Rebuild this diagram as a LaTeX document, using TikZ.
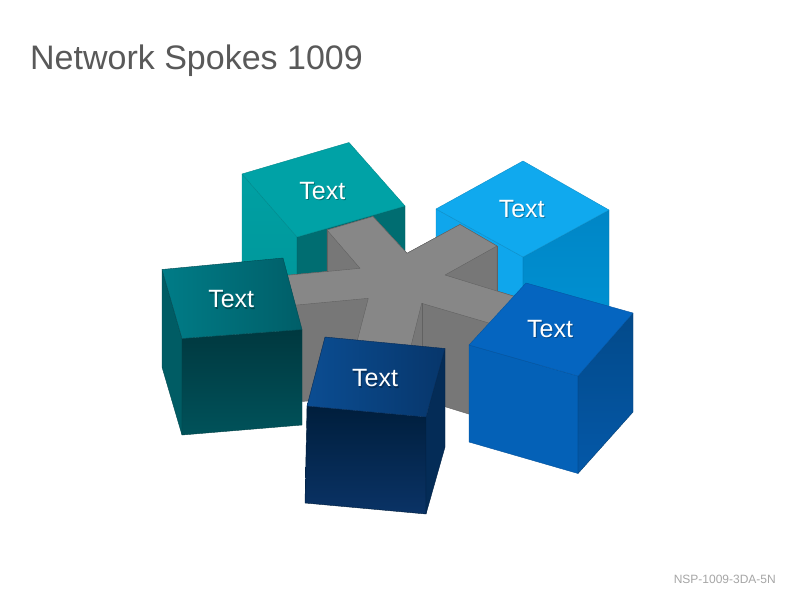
\documentclass[tikz,border=0pt]{standalone}
\usepackage{fontspec}
\setmainfont{Liberation Sans}
\definecolor{titlegray}{HTML}{595959}
\definecolor{footgray}{HTML}{A6A6A6}
\definecolor{tealtop}{HTML}{00A2A6}
\definecolor{tealleftA}{HTML}{00A0A3}
\definecolor{tealleftB}{HTML}{009498}
\definecolor{tealright}{HTML}{006D71}
\definecolor{skytop}{HTML}{10A9EE}
\definecolor{skyleft}{HTML}{0FA6EC}
\definecolor{skyrightA}{HTML}{0086C6}
\definecolor{skyrightB}{HTML}{0094D6}
\definecolor{dtopA}{HTML}{007C87}
\definecolor{dtopB}{HTML}{005E68}
\definecolor{dfrontA}{HTML}{00383F}
\definecolor{dfrontB}{HTML}{00525A}
\definecolor{dleft}{HTML}{005C64}
\definecolor{navytopA}{HTML}{0B4D92}
\definecolor{navytopB}{HTML}{07366B}
\definecolor{navyfrontA}{HTML}{001E3C}
\definecolor{navyfrontB}{HTML}{0A3366}
\definecolor{navyright}{HTML}{042C57}
\definecolor{mtop}{HTML}{0565C0}
\definecolor{mfront}{HTML}{0461B7}
\definecolor{mrightA}{HTML}{034A8A}
\definecolor{mrightB}{HTML}{0458A8}
\definecolor{graytop}{HTML}{878787}
\definecolor{grayside}{HTML}{777777}
\definecolor{grayedge}{HTML}{616161}
\tikzset{
  lbl/.style={font=\fontsize{25}{29}\selectfont, text=white, inner sep=0pt, anchor=base},
  lblshadow/.style={font=\fontsize{25}{29}\selectfont, text=black, text opacity=0.3, inner sep=0pt, anchor=base},
  edge/.style={line width=0.4pt, line join=round},
}
\begin{document}
\begin{tikzpicture}[x=1pt,y=-1pt]
\useasboundingbox (0,0) rectangle (800,600);
\fill[white] (0,0) rectangle (800,600);

% ---------- title and code ----------
\node[anchor=base west, font=\fontsize{34}{40}\selectfont, text=titlegray, inner sep=0pt] (title) at (30,69.3) {Network Spokes 1009};
\node[anchor=base east, font=\fontsize{12}{14}\selectfont, text=footgray, inner sep=0pt] (code) at (776,583.3) {NSP-1009-3DA-5N};

% ---------- teal cube (back left) ----------
\coordinate (ta) at (242,174); \coordinate (tb) at (349,142.5);
\coordinate (tc) at (405,206); \coordinate (td) at (297,237);
\coordinate (ta2) at (242,271); \coordinate (td2) at (297,334); \coordinate (tc2) at (405,303);
\path[edge, top color=tealleftA, bottom color=tealleftB, draw=tealleftB] (ta) -- (td) -- (td2) -- (ta2) -- cycle;
\path[edge, fill=tealright, draw=tealright!80!black] (td) -- (tc) -- (tc2) -- (td2) -- cycle;
\path[edge, fill=tealtop, draw=tealtop!85!black] (ta) -- (tb) -- (tc) -- (td) -- cycle;

% ---------- light blue cube (back right) ----------
\coordinate (la) at (436,209); \coordinate (lb) at (523,161);
\coordinate (lc) at (609,210); \coordinate (ld) at (523,257);
\coordinate (la2) at (436,306); \coordinate (ld2) at (523,354); \coordinate (lc2) at (609,307);
\path[edge, fill=skyleft, draw=skyleft!85!black] (la) -- (ld) -- (ld2) -- (la2) -- cycle;
\path[edge, top color=skyrightA, bottom color=skyrightB, draw=skyrightA!85!black] (ld) -- (lc) -- (lc2) -- (ld2) -- cycle;
\path[edge, fill=skytop, draw=skytop!85!black] (la) -- (lb) -- (lc) -- (ld) -- cycle;

% ---------- gray star (spokes) ----------
\coordinate (p1) at (327,230); \coordinate (p2) at (373,216.5);
\coordinate (q1) at (407,253.3); \coordinate (p3) at (460,224.5);
\coordinate (p4) at (497,246); \coordinate (s2) at (497,291);
\coordinate (q2) at (445,275); \coordinate (r1) at (540,304.3);
\coordinate (r2) at (540,338); \coordinate (q3) at (421.7,303.3);
\coordinate (b1) at (409.5,352); \coordinate (b2) at (354.3,352);
\coordinate (q4) at (368.3,298.3); \coordinate (l1) at (280,306.6);
\coordinate (l2) at (280,276); \coordinate (q5) at (360,268.3);
\coordinate (s1) at (327,271.5);
\coordinate (g1) at (540,436); \coordinate (g2) at (445,406.7);
\coordinate (g3) at (354,397); \coordinate (g4) at (302,401.5);
\coordinate (g5) at (280,403.6); \coordinate (q3b) at (421.7,352);
% silhouette (side faces)
\path[edge, fill=grayside, draw=grayedge] (p1) -- (p2) -- (q1) -- (p3) -- (p4) -- (s2) -- (r1)
  -- (g1) -- (g2) -- (g3) -- (g4) -- (g5) -- (l2) -- (s1) -- cycle;
% top face
\path[edge, fill=graytop, draw=grayedge] (p1) -- (p2) -- (q1) -- (p3) -- (p4) -- (q2) -- (r1)
  -- (r2) -- (q3) -- (b1) -- (b2) -- (q4) -- (l1) -- (l2) -- (q5) -- cycle;
\draw[edge, draw=grayedge] (p1) -- (s1);
\draw[edge, draw=grayedge] (p4) -- (s2);
\draw[edge, draw=grayedge] (q3) -- (q3b);

% ---------- dark teal cube (left) ----------
\coordinate (da) at (162,269.5); \coordinate (db) at (283,258);
\coordinate (dc) at (302,329.5); \coordinate (dd) at (182,338.5);
\coordinate (dd2) at (182,435); \coordinate (dc2) at (302,425); \coordinate (da2) at (162,367);
\path[edge, fill=dleft, draw=dleft!80!black] (da) -- (dd) -- (dd2) -- (da2) -- cycle;
\path[edge, top color=dfrontA, bottom color=dfrontB, draw=dfrontB!80!black] (dd) -- (dc) -- (dc2) -- (dd2) -- cycle;
\path[edge, left color=dtopA, right color=dtopB, draw=dtopB!80!black] (da) -- (db) -- (dc) -- (dd) -- cycle;

% ---------- medium blue cube (right) ----------
\coordinate (ma) at (526,283); \coordinate (mb) at (633,313);
\coordinate (mc) at (578,376); \coordinate (md) at (469,345);
\coordinate (md2) at (469,442); \coordinate (mc2) at (578,473.5); \coordinate (mb2) at (633,412);
\path[edge, fill=mfront, draw=mfront!85!black] (md) -- (mc) -- (mc2) -- (md2) -- cycle;
\path[edge, top color=mrightA, bottom color=mrightB, draw=mrightA!85!black] (mc) -- (mb) -- (mb2) -- (mc2) -- cycle;
\path[edge, fill=mtop, draw=mtop!85!black] (ma) -- (mb) -- (mc) -- (md) -- cycle;

% ---------- navy cube (front) ----------
\coordinate (na) at (325,337); \coordinate (nb) at (445,348.5);
\coordinate (nc) at (426,417); \coordinate (nd) at (307,406);
\coordinate (nd2) at (305,503); \coordinate (nc2) at (426,514); \coordinate (nb2) at (445,447);
\path[edge, top color=navyfrontA, bottom color=navyfrontB, draw=navyfrontA] (nd) -- (nc) -- (nc2) -- (nd2) -- cycle;
\path[edge, fill=navyright, draw=navyright!80!black] (nc) -- (nb) -- (nb2) -- (nc2) -- cycle;
\path[edge, left color=navytopA, right color=navytopB, draw=navytopB!80!black] (na) -- (nb) -- (nc) -- (nd) -- cycle;

% ---------- labels ----------
\node[lblshadow] (t1s) at (323.3,200.3) {Text};
\node[lbl] (t1) at (322.3,199) {Text};
\node[lblshadow] (t2s) at (522.7,218.6) {Text};
\node[lbl] (t2) at (521.7,217.3) {Text};
\node[lblshadow] (t3s) at (232.2,309) {Text};
\node[lbl] (t3) at (231.2,307.7) {Text};
\node[lblshadow] (t4s) at (376,388) {Text};
\node[lbl] (t4) at (375,386.7) {Text};
\node[lblshadow] (t5s) at (551,338.6) {Text};
\node[lbl] (t5) at (550,337.3) {Text};
\end{tikzpicture}
\end{document}
